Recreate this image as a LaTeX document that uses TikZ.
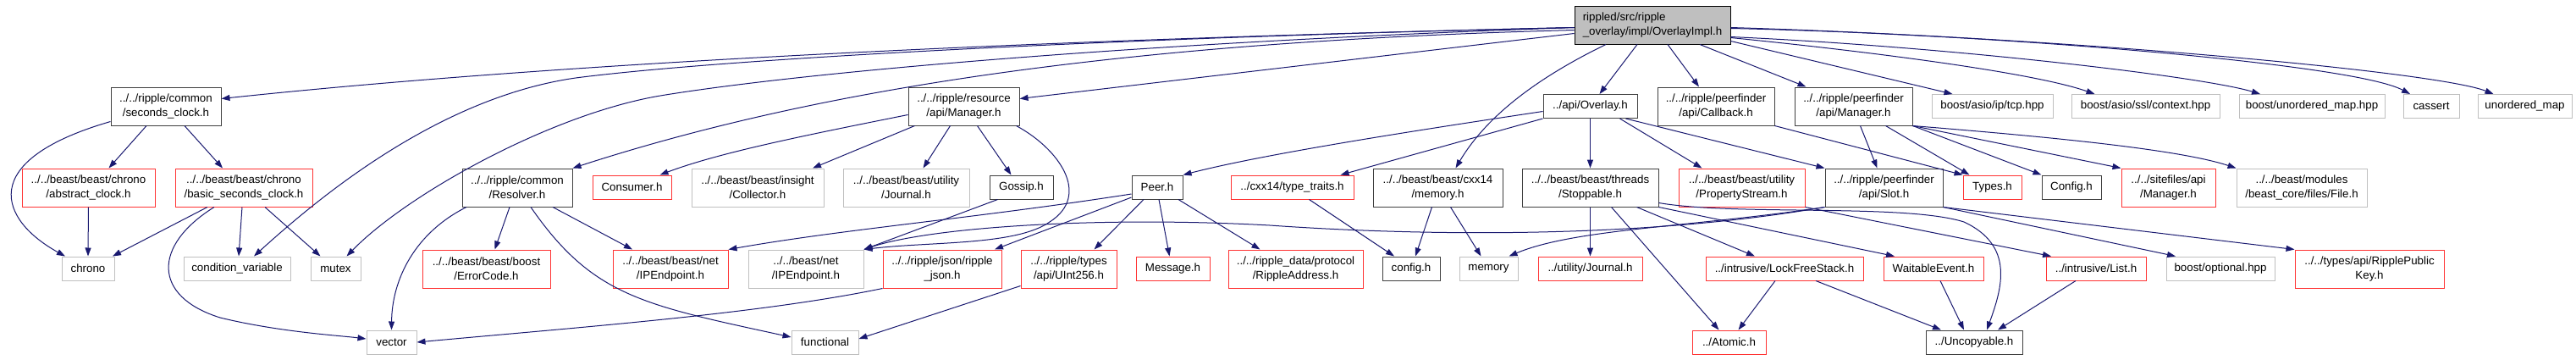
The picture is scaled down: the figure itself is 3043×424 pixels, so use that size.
\documentclass[tikz,border=0pt]{standalone}
\usepackage{fontspec}
\setmainfont{Liberation Sans}
\usepackage{tikz}
\usetikzlibrary{arrows.meta}
\definecolor{edgeblue}{RGB}{25,25,112}
\definecolor{docgray}{RGB}{64,64,64}
\definecolor{sysgray}{RGB}{191,191,191}
\definecolor{truncred}{RGB}{255,51,51}

\begin{document}
\begin{tikzpicture}[x=1pt, y=-1pt, >={Triangle[length=10pt,width=7pt]},
  filebox/.style={draw, line width=1pt, minimum height=28, inner xsep=4, inner ysep=2, align=center, font=\fontsize{13.33}{17}\selectfont},
  doc/.style={filebox, draw=docgray},
  trunc/.style={filebox, draw=truncred},
  sys/.style={filebox, draw=sysgray},
  tall/.style={minimum height=45},
  dep/.style={->, draw=edgeblue, line width=1pt}]
  \fill[white] (0,0) rectangle (3043,424);
  \useasboundingbox (0,0) rectangle (3043,424);

  \node[filebox, fill=sysgray, draw=black, tall, align=left, minimum width=184, inner xsep=9.5] (root) at (1952,29.5) {rippled/src/ripple\\\_overlay/impl/OverlayImpl.h};

  \node[doc, tall, minimum width=130] (secclk) at (196,125.5) {../../ripple/common\\/seconds\_clock.h};
  \node[doc, tall, minimum width=131] (resmgr) at (1138.5,125.5) {../../ripple/resource\\/api/Manager.h};
  \node[doc, minimum width=111] (overlay) at (1878.5,125.5) {../api/Overlay.h};
  \node[doc, tall, minimum width=138] (callback) at (2027,125.5) {../../ripple/peerfinder\\/api/Callback.h};
  \node[doc, tall, minimum width=139] (pfmgr) at (2189.5,125.5) {../../ripple/peerfinder\\/api/Manager.h};
  \node[sys, minimum width=143] (tcp) at (2353.5,125.5) {boost/asio/ip/tcp.hpp};
  \node[sys, minimum width=175] (sslctx) at (2534.5,125.5) {boost/asio/ssl/context.hpp};
  \node[sys, minimum width=172] (bunmap) at (2731,125.5) {boost/unordered\_map.hpp};
  \node[sys, minimum width=66] (cassert) at (2872,125.5) {cassert};
  \node[sys, minimum width=111] (unmap) at (2982.5,125.5) {unordered\_map};

  \node[trunc, tall, minimum width=157] (absclk) at (104.5,221.5) {../../beast/beast/chrono\\/abstract\_clock.h};
  \node[trunc, tall, minimum width=162] (basclk) at (288,221.5) {../../beast/beast/chrono\\/basic\_seconds\_clock.h};
  \node[doc, tall, minimum width=130] (resolver) at (611,221.5) {../../ripple/common\\/Resolver.h};
  \node[trunc, minimum width=93] (consumer) at (746.5,221) {Consumer.h};
  \node[sys, tall, minimum width=156] (collector) at (895,221.5) {../../beast/beast/insight\\/Collector.h};
  \node[sys, tall, minimum width=149] (bjournal) at (1070.5,221.5) {../../beast/beast/utility\\/Journal.h};
  \node[doc, minimum width=75] (gossip) at (1206.5,221) {Gossip.h};
  \node[doc, minimum width=60] (peer) at (1367,221) {Peer.h};
  \node[trunc, minimum width=145] (typetraits) at (1526.5,221) {../cxx14/type\_traits.h};
  \node[doc, tall, minimum width=153] (cxxmem) at (1698.5,221.5) {../../beast/beast/cxx14\\/memory.h};
  \node[doc, tall, minimum width=161] (stoppable) at (1878.5,221.5) {../../beast/beast/threads\\/Stoppable.h};
  \node[trunc, tall, minimum width=149] (propstream) at (2057.5,221.5) {../../beast/beast/utility\\/PropertyStream.h};
  \node[doc, tall, minimum width=139] (slot) at (2225.5,221.5) {../../ripple/peerfinder\\/api/Slot.h};
  \node[trunc, minimum width=69] (types) at (2353.5,221) {Types.h};
  \node[doc, minimum width=70] (cfg) at (2447,221) {Config.h};
  \node[trunc, tall, minimum width=111] (sitemgr) at (2561.5,221.5) {../../sitefiles/api\\/Manager.h};
  \node[sys, tall, minimum width=154] (file) at (2719,221.5) {../../beast/modules\\/beast\_core/files/File.h};

  \node[sys, minimum width=62] (chrono) at (104,317) {chrono};
  \node[sys, minimum width=126] (condvar) at (280,317) {condition\_variable};
  \node[sys, minimum width=59] (mutex) at (396.5,317) {mutex};
  \node[trunc, tall, minimum width=151] (errcode) at (574.5,317.5) {../../beast/beast/boost\\/ErrorCode.h};
  \node[trunc, tall, minimum width=136] (ipendred) at (792,317.5) {../../beast/beast/net\\/IPEndpoint.h};
  \node[sys, tall, minimum width=136] (ipendgray) at (952,317.5) {../../beast/net\\/IPEndpoint.h};
  \node[trunc, tall, minimum width=140] (json) at (1113,317.5) {../../ripple/json/ripple\\\_json.h};
  \node[trunc, tall, minimum width=113] (uint256) at (1262.5,317.5) {../../ripple/types\\/api/UInt256.h};
  \node[trunc, minimum width=87] (message) at (1385.5,317) {Message.h};
  \node[trunc, tall, minimum width=159] (rippleaddr) at (1530.5,317.5) {../../ripple\_data/protocol\\/RippleAddress.h};
  \node[doc, minimum width=68] (config) at (1667,317) {config.h};
  \node[sys, minimum width=69] (memory) at (1758.5,317) {memory};
  \node[trunc, minimum width=123] (ujournal) at (1878.5,317) {../utility/Journal.h};
  \node[trunc, minimum width=186] (lockfree) at (2108,317) {../intrusive/LockFreeStack.h};
  \node[trunc, minimum width=118] (waitable) at (2284,317) {WaitableEvent.h};
  \node[trunc, minimum width=118] (list) at (2476,317) {../intrusive/List.h};
  \node[sys, minimum width=128] (optional) at (2623,317) {boost/optional.hpp};
  \node[trunc, tall, minimum width=176] (pubkey) at (2799,317.5) {../../types/api/RipplePublic\\Key.h};

  \node[sys, minimum width=59] (vector) at (462.5,404) {vector};
  \node[sys, minimum width=79] (functional) at (974.5,404) {functional};
  \node[trunc, minimum width=87] (atomic) at (2042.5,404) {../Atomic.h};
  \node[doc, minimum width=114] (uncopyable) at (2332,404) {../Uncopyable.h};

  \draw[dep] ([yshift=-3pt]root.west) .. controls (1300,45) and (700,70) .. ([yshift=9pt]secclk.east);
  \draw[dep] ([yshift=-3pt]root.west) .. controls (1300,45) and (850,70) .. (680,92) .. controls (520,115) and (380,230) .. ([xshift=20pt]condvar.north);
  \draw[dep] ([yshift=-3pt]root.west) .. controls (1350,50) and (950,85) .. (780,113) .. controls (650,135) and (480,230) .. ([xshift=13pt]mutex.north);
  \draw[dep] ([yshift=-6pt]root.west) .. controls (1300,50) and (950,110) .. (resolver.north east);
  \draw[dep] ([yshift=-10pt]root.west) -- ([yshift=9pt]resmgr.east);
  \draw[dep] ([xshift=-55pt]root.south) .. controls (1830,85) and (1760,130) .. ([xshift=21pt]cxxmem.north);
  \draw[dep] ([xshift=-18pt]root.south) -- ([xshift=11pt]overlay.north);
  \draw[dep] ([xshift=18pt]root.south) -- ([xshift=-20pt]callback.north);
  \draw[dep] ([xshift=56pt]root.south) -- ([xshift=-56pt]pfmgr.north);
  \draw[dep] ([yshift=-19pt]root.east) -- ([xshift=-47pt]tcp.north);
  \draw[dep] ([yshift=-15pt]root.east) .. controls (2200,60) and (2400,85) .. ([xshift=-60pt]sslctx.north);
  \draw[dep] ([yshift=-14pt]root.east) .. controls (2300,55) and (2600,90) .. ([xshift=-61pt]bunmap.north);
  \draw[dep] ([yshift=-4pt]root.east) .. controls (2350,40) and (2780,75) .. ([xshift=-25pt]cassert.north);
  \draw[dep] ([yshift=-3pt]root.east) .. controls (2450,45) and (2880,85) .. ([xshift=-37pt]unmap.north);

  \draw[dep] ([yshift=-6pt]overlay.west) .. controls (1700,150) and (1500,180) .. (peer.north east);
  \draw[dep] (overlay.south west) -- ([xshift=57pt]typetraits.north);
  \draw[dep] (overlay.south) -- (stoppable.north);
  \draw[dep] ([xshift=35pt]overlay.south) -- ([xshift=-47pt]propstream.north);
  \draw[dep] ([xshift=42pt]overlay.south) -- (slot.north west);

  \draw[dep] ([yshift=-10pt]resmgr.west) .. controls (950,160) and (850,180) .. ([xshift=33pt]consumer.north);
  \draw[dep] ([xshift=-58pt]resmgr.south) -- ([xshift=65pt]collector.north);
  \draw[dep] ([xshift=-16pt]resmgr.south) -- ([xshift=20pt]bjournal.north);
  \draw[dep] ([xshift=16pt]resmgr.south) -- ([xshift=-12pt]gossip.north);
  \draw[dep] ([xshift=62pt]resmgr.south) .. controls (1250,175) and (1290,230) .. (1240,262) .. controls (1200,290) and (1100,285) .. (ipendgray.north east);

  \draw[dep] ([xshift=-60pt]resolver.south) .. controls (490,275) and (463,330) .. (vector.north);
  \draw[dep] ([xshift=-9pt]resolver.south) -- ([xshift=10pt]errcode.north);
  \draw[dep] ([xshift=42pt]resolver.south) -- ([xshift=-45pt]ipendred.north);
  \draw[dep] ([xshift=16pt]resolver.south) .. controls (700,350) and (760,360) .. ([yshift=6pt]functional.west);

  \draw[dep] ([yshift=5pt]secclk.south west) .. controls (-30,190) and (0,260) .. ([xshift=-27pt]chrono.north);
  \draw[dep] ([xshift=-23pt]secclk.south) -- ([xshift=24pt]absclk.north);
  \draw[dep] ([xshift=22pt]secclk.south) -- ([xshift=-25pt]basclk.north);
  \draw[dep] (absclk.south) -- (chrono.north);
  \draw[dep] ([xshift=-43pt]basclk.south) -- ([xshift=29pt]chrono.north);
  \draw[dep] ([xshift=-35pt]basclk.south) .. controls (180,290) and (180,350) .. (260,375) .. controls (330,392) and (400,396) .. ([yshift=4pt]vector.west);
  \draw[dep] ([xshift=-2pt]basclk.south) -- ([xshift=2pt]condvar.north);
  \draw[dep] ([xshift=25pt]basclk.south) -- ([xshift=-18pt]mutex.north);

  \draw[dep] ([yshift=-8pt]peer.west) .. controls (1150,258) and (1000,270) .. (ipendred.north east);
  \draw[dep] ([yshift=-12pt]peer.west) -- ([xshift=62pt]json.north);
  \draw[dep] ([xshift=-16pt]peer.south) -- ([xshift=30pt]uint256.north);
  \draw[dep] ([xshift=2pt]peer.south) -- ([xshift=-4pt]message.north);
  \draw[dep] ([xshift=25pt]peer.south) -- ([xshift=-42pt]rippleaddr.north);
  \draw[dep] ([xshift=-28pt]gossip.south) -- (ipendgray.north east);
  \draw[dep] (json.south west) .. controls (900,370) and (700,385) .. (vector.east);
  \draw[dep] ([yshift=-20pt]uint256.west) -- ([yshift=4pt]functional.east);

  \draw[dep] ([xshift=20pt]typetraits.south) -- ([xshift=-20pt]config.north);
  \draw[dep] ([xshift=-7pt]cxxmem.south) -- ([xshift=5pt]config.north);
  \draw[dep] ([xshift=15pt]cxxmem.south) -- ([xshift=-9pt]memory.north);

  \draw[dep] (stoppable.south) -- (ujournal.north);
  \draw[dep] ([xshift=25pt]stoppable.south) -- ([xshift=-12pt]atomic.north);
  \draw[dep] ([xshift=55pt]stoppable.south) -- ([xshift=-35pt]lockfree.north);
  \draw[dep] (stoppable.south east) -- ([xshift=-46pt]waitable.north);
  \draw[dep] ([yshift=5pt]stoppable.south east) .. controls (2050,255) and (2250,240) .. (2320,262) .. controls (2380,290) and (2365,340) .. ([xshift=15pt]uncopyable.north);
  \draw[dep] ([xshift=-11pt]lockfree.south) -- ([xshift=11pt]atomic.north);
  \draw[dep] ([xshift=37pt]lockfree.south) -- ([xshift=-39pt]uncopyable.north);
  \draw[dep] ([xshift=8pt]waitable.south) -- ([xshift=-12pt]uncopyable.north);
  \draw[dep] ([xshift=-24pt]list.south) -- ([xshift=28pt]uncopyable.north);
  \draw[dep] (propstream.south east) -- ([xshift=-53pt]list.north);

  \draw[dep] (slot.south west) .. controls (2000,268) and (1860,270) .. ([xshift=24pt]memory.north);
  \draw[dep] (slot.south west) .. controls (1950,280) and (1700,280) .. (1500,266) .. controls (1300,255) and (1100,268) .. (ipendgray.north east);
  \draw[dep] (slot.south east) -- ([xshift=-53pt]optional.north);
  \draw[dep] (slot.south east) -- (pubkey.north west);

  \draw[dep] (callback.south east) -- (types.north west);
  \draw[dep] ([xshift=8pt]pfmgr.south) -- ([xshift=-8pt]slot.north);
  \draw[dep] ([xshift=38pt]pfmgr.south) -- ([xshift=-27pt]types.north);
  \draw[dep] (pfmgr.south east) -- (cfg.north west);
  \draw[dep] (pfmgr.south east) -- (sitemgr.north west);
  \draw[dep] (pfmgr.south east) .. controls (2400,160) and (2570,175) .. (file.north west);
\end{tikzpicture}
\end{document}
